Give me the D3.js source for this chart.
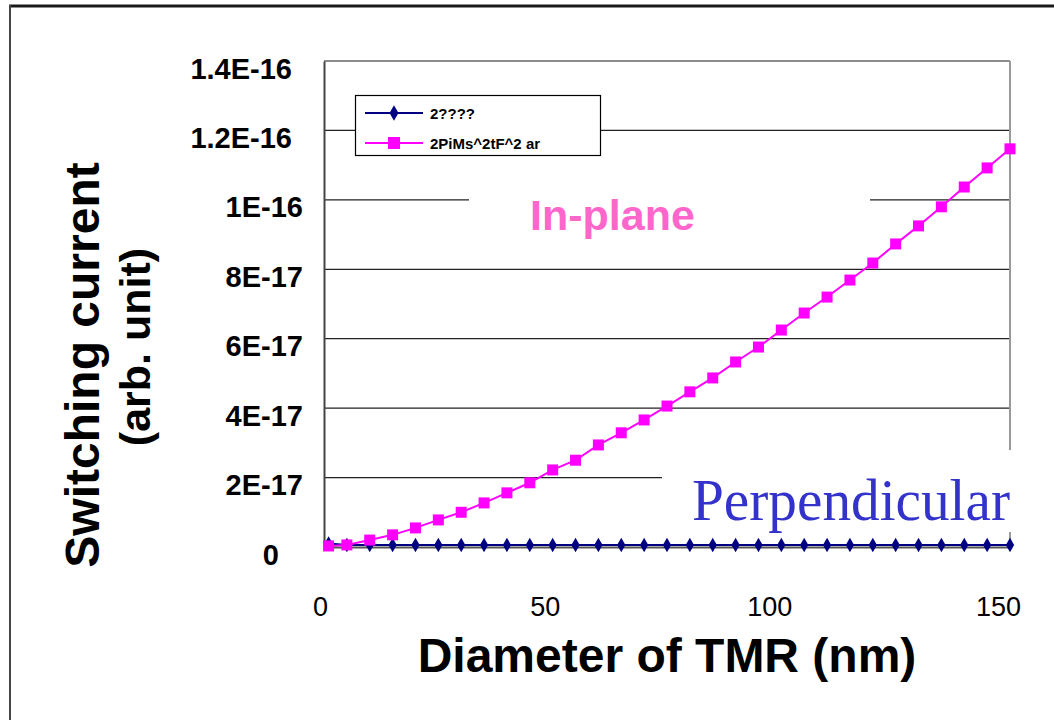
<!DOCTYPE html>
<html>
<head>
<meta charset="utf-8">
<script src="https://cdn.jsdelivr.net/npm/d3@7"></script>
<style>
  body { margin: 0; background: #fff; }
  svg { display: block; font-family: "Liberation Sans", Arial, sans-serif; }
</style>
</head>
<body>
<svg id="chart" width="1054" height="720"></svg>
<script>
// diameter of TMR (nm)
const diameters = [1, 5, 10, 15, 20, 25, 30, 35, 40, 45, 50, 55, 60, 65, 70, 75,
    80, 85, 90, 95, 100, 105, 110, 115, 120, 125, 130, 135, 140, 145, 150];
// switching current, in units of 1E-17
const inPlane = [0.03, 0.06, 0.2, 0.35, 0.55, 0.78, 1.0, 1.27, 1.56, 1.85, 2.22,
    2.5, 2.94, 3.29, 3.66, 4.06, 4.47, 4.87, 5.33, 5.76, 6.25, 6.74, 7.2, 7.69,
    8.18, 8.73, 9.25, 9.8, 10.37, 10.92, 11.47];
const perpendicular = [0.1, 0.06, 0.06, 0.06, 0.06, 0.06, 0.06, 0.06, 0.06, 0.06,
    0.06, 0.06, 0.06, 0.06, 0.06, 0.06, 0.06, 0.06, 0.06, 0.06, 0.06, 0.06, 0.06,
    0.06, 0.06, 0.06, 0.06, 0.06, 0.06, 0.06, 0.06];
const unit = 1e-17;

const yTicks = [0, 2e-17, 4e-17, 6e-17, 8e-17, 1e-16, 1.2e-16, 1.4e-16];
const yTickLabels = ["0", "2E-17", "4E-17", "6E-17", "8E-17", "1E-16", "1.2E-16", "1.4E-16"];
const xTicks = [0, 50, 100, 150];
const legendNames = ["2????", "2PiMs^2tF^2 ar"];

const svg = d3.select("#chart");
const plot = {left: 324, right: 1010, top: 61, bottom: 547};

let x = d3.scaleLinear().domain([0, 150]).range([plot.left, plot.right]);
let y = d3.scaleLinear().domain([0, 1.4e-16]).range([plot.bottom, plot.top]);

// outer frame
svg.append("line").attr("x1", 9).attr("x2", 1054).attr("y1", 6).attr("y2", 6)
    .style("stroke", "#1a1a1a").style("stroke-width", 3);
svg.append("line").attr("x1", 10).attr("x2", 10).attr("y1", 5).attr("y2", 720)
    .style("stroke", "#444").style("stroke-width", 2);

// gridlines
svg.append("g")
    .selectAll("line")
    .data(yTicks.slice(1))
    .enter()
    .append("line")
    .attr("x1", plot.left)
    .attr("x2", plot.right)
    .attr("y1", d => y(d))
    .attr("y2", d => y(d))
    .style("stroke", (d, i) => i == yTicks.length - 2 ? "#666" : "#222")
    .style("stroke-width", 1.3);

// right border of the plot (gray)
svg.append("line").attr("x1", plot.right).attr("x2", plot.right)
    .attr("y1", plot.top).attr("y2", plot.bottom)
    .style("stroke", "#999").style("stroke-width", 2);

// white boxes behind the two labels hide parts of the grid
svg.append("rect").attr("x", 469).attr("y", 190).attr("width", 401).attr("height", 45)
    .attr("fill", "#fff");
svg.append("rect").attr("x", 662).attr("y", 450).attr("width", 392).attr("height", 82)
    .attr("fill", "#fff");

// y axis
const yAxis = svg.append("g")
    .attr("transform", `translate(${plot.left},0)`)
    .call(d3.axisLeft(y).tickValues(yTicks).tickSize(0)
        .tickFormat((d, i) => yTickLabels[i]));
yAxis.select(".domain").style("stroke", "#444").style("stroke-width", 2);
yAxis.selectAll("text")
    .style("font-family", "Liberation Sans, Arial, sans-serif")
    .style("font-size", "29px")
    .style("font-weight", "bold")
    .attr("fill", "#000")
    .attr("dy", null)
    .attr("y", 17)
    .attr("x", function (d, i) {
        let lab = yTickLabels[i];
        if (lab == "0") return 279 - plot.left;
        if (lab.indexOf(".") >= 0) return 292 - plot.left;
        return 303 - plot.left;
    });

// x axis
const xAxis = svg.append("g")
    .attr("transform", `translate(0,${plot.bottom})`)
    .call(d3.axisBottom(x).tickValues(xTicks).tickSize(0));
xAxis.select(".domain").style("stroke", "#555").style("stroke-width", 2);
xAxis.selectAll("text")
    .style("font-family", "Liberation Sans, Arial, sans-serif")
    .style("font-size", "27px")
    .attr("fill", "#000")
    .attr("dy", null)
    .attr("y", 69)
    .attr("dx", d => -4 * String(d).length);

// series
const line = d3.line().x((d, i) => x(diameters[i])).y(d => y(d * unit));

svg.append("path")
    .datum(perpendicular)
    .attr("d", line)
    .attr("fill", "none")
    .style("stroke", "#000080")
    .style("stroke-width", 2);
svg.append("g")
    .selectAll("path")
    .data(perpendicular)
    .enter()
    .append("path")
    .attr("d", d3.symbol().type(d3.symbolDiamond).size(60))
    .attr("transform", (d, i) => `translate(${x(diameters[i])},${y(d * unit)})`)
    .attr("fill", "#000080");

svg.append("path")
    .datum(inPlane)
    .attr("d", line)
    .attr("fill", "none")
    .style("stroke", "#ff00ff")
    .style("stroke-width", 2);
svg.append("g")
    .selectAll("rect")
    .data(inPlane)
    .enter()
    .append("rect")
    .attr("x", (d, i) => x(diameters[i]) - 5.5)
    .attr("y", d => y(d * unit) - 5.5)
    .attr("width", 11)
    .attr("height", 11)
    .attr("fill", "#ff00ff");

// legend
const legend = svg.append("g");
legend.append("rect").attr("x", 355.5).attr("y", 95.5).attr("width", 245).attr("height", 60)
    .attr("fill", "#fff").style("stroke", "#000").style("stroke-width", 1.2);
const legendColors = ["#000080", "#ff00ff"];
legendNames.forEach(function (name, i) {
    let ly = 113 + i * 30;
    legend.append("line").attr("x1", 365).attr("x2", 423).attr("y1", ly).attr("y2", ly)
        .style("stroke", legendColors[i]).style("stroke-width", 2);
    if (i == 0) {
        legend.append("path").attr("d", d3.symbol().type(d3.symbolDiamond).size(70))
            .attr("transform", `translate(394,${ly})`).attr("fill", legendColors[i]);
    } else {
        legend.append("rect").attr("x", 388).attr("y", ly - 6).attr("width", 12).attr("height", 12)
            .attr("fill", legendColors[i]);
    }
    legend.append("text").attr("x", 430).attr("y", ly + 6)
        .style("font-size", "15px").style("font-weight", "bold")
        .text(name);
});

// labels inside the plot
svg.append("text").attr("x", 530).attr("y", 230)
    .style("font-size", "43px").style("font-weight", "bold")
    .attr("fill", "#ff66cc")
    .text("In-plane");
svg.append("text").attr("x", 692).attr("y", 520)
    .style("font-family", "Liberation Serif, 'Times New Roman', serif")
    .style("font-size", "59px")
    .attr("textLength", 318)
    .attr("lengthAdjust", "spacingAndGlyphs")
    .attr("fill", "#3333cc")
    .text("Perpendicular");

// axis titles
svg.append("text")
    .attr("transform", "translate(99,365) rotate(-90)")
    .attr("text-anchor", "middle")
    .style("font-size", "48px").style("font-weight", "bold")
    .text("Switching current");
svg.append("text")
    .attr("transform", "translate(150,347) rotate(-90)")
    .attr("text-anchor", "middle")
    .style("font-size", "43px").style("font-weight", "bold")
    .text("(arb. unit)");
svg.append("text")
    .attr("x", 667).attr("y", 672)
    .attr("text-anchor", "middle")
    .style("font-size", "48px").style("font-weight", "bold")
    .text("Diameter of TMR (nm)");
</script>
</body>
</html>
